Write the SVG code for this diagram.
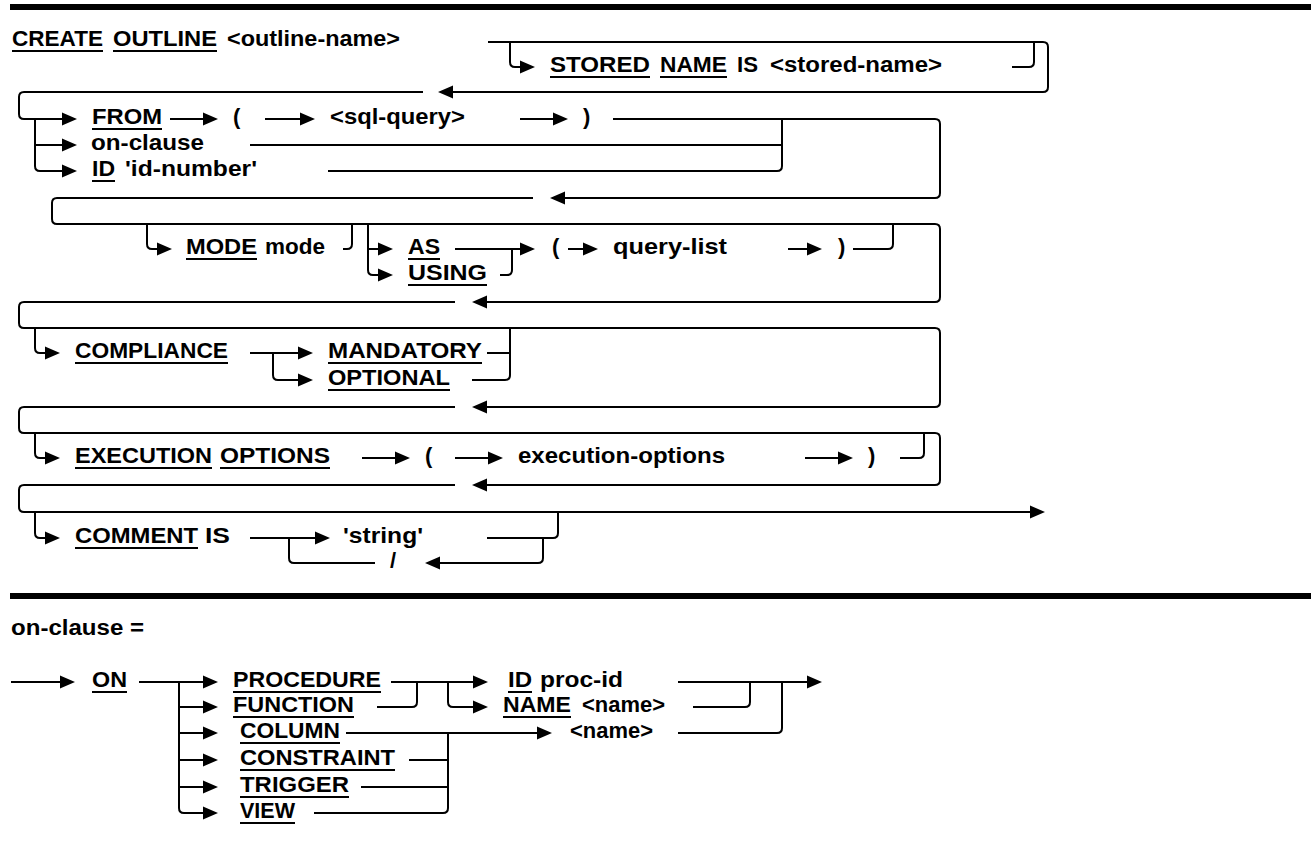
<svg xmlns="http://www.w3.org/2000/svg" xmlns:xlink="http://www.w3.org/1999/xlink" width="1311" height="842" viewBox="0 0 1311 842">
<style>
.t{font-family:"Liberation Sans",Arial,Helvetica,sans-serif;font-weight:bold;font-size:22px;fill:#000}
.c{fill:none;stroke:#000;stroke-width:2}
.u{stroke:#000;stroke-width:2}
.bar{fill:#000}
</style>
<defs>
<path id="ar" d="M0,0 L-15,-6.5 L-15,6.5 Z" fill="#000"/>
<path id="al" d="M0,0 L15,-6.5 L15,6.5 Z" fill="#000"/>
</defs>
<rect width="1311" height="842" fill="#fff"/>
<rect class="bar" x="10" y="4" width="1301" height="6"/>
<rect class="bar" x="10" y="593" width="1301" height="6"/>

<g id="connectors">
<path class="c" d="M488,42 H1043 Q1048,42 1048,47 V87 Q1048,92 1043,92 H450"/>
<use xlink:href="#al" x="438" y="92"/>
<path class="c" d="M423,92 H24 Q19,92 19,97 V114 Q19,119 24,119 H70"/>
<use xlink:href="#ar" x="77" y="119"/>
<path class="c" d="M510,42 V62 Q510,67 515,67 H528"/>
<use xlink:href="#ar" x="535" y="67"/>
<path class="c" d="M1012,67 H1029 Q1034,67 1034,62 V42"/>

<path class="c" d="M35,119 V166 Q35,171 40,171 H70 M35,145 H70"/>
<use xlink:href="#ar" x="77" y="145"/>
<use xlink:href="#ar" x="77" y="171"/>
<path class="c" d="M170,119 H211"/>
<use xlink:href="#ar" x="218" y="119"/>
<path class="c" d="M265,119 H308"/>
<use xlink:href="#ar" x="315" y="119"/>
<path class="c" d="M520,119 H561"/>
<use xlink:href="#ar" x="568" y="119"/>
<path class="c" d="M613,119 H935 Q940,119 940,124 V193 Q940,198 935,198 H562"/>
<use xlink:href="#al" x="550" y="198"/>
<path class="c" d="M250,145 H782"/>
<path class="c" d="M328,171 H777 Q782,171 782,166 V119"/>

<path class="c" d="M533,198 H57 Q52,198 52,203 V219 Q52,224 57,224 H935 Q940,224 940,229 V297 Q940,302 935,302 H484"/>
<use xlink:href="#al" x="472" y="302"/>
<path class="c" d="M147,224 V244 Q147,249 152,249 H165"/>
<use xlink:href="#ar" x="172" y="249"/>
<path class="c" d="M343,249 H347 Q352,249 352,244 V224"/>
<path class="c" d="M368,224 V270 Q368,275 373,275 H386 M368,249 H386"/>
<use xlink:href="#ar" x="393" y="249"/>
<use xlink:href="#ar" x="393" y="275"/>
<path class="c" d="M455,249 H528"/>
<use xlink:href="#ar" x="535" y="249"/>
<path class="c" d="M500,275 H507 Q512,275 512,270 V249"/>
<path class="c" d="M568,249 H591"/>
<use xlink:href="#ar" x="598" y="249"/>
<path class="c" d="M788,249 H815"/>
<use xlink:href="#ar" x="822" y="249"/>
<path class="c" d="M853,249 H888 Q893,249 893,244 V224"/>

<path class="c" d="M455,302 H24 Q19,302 19,307 V323 Q19,328 24,328 H935 Q940,328 940,333 V402 Q940,407 935,407 H484"/>
<use xlink:href="#al" x="472" y="407"/>
<path class="c" d="M35,328 V348 Q35,353 40,353 H53"/>
<use xlink:href="#ar" x="60" y="353"/>
<path class="c" d="M250,353 H306 M273,353 V375 Q273,380 278,380 H306"/>
<use xlink:href="#ar" x="313" y="353"/>
<use xlink:href="#ar" x="313" y="380"/>
<path class="c" d="M487,353 H510 M472,380 H505 Q510,380 510,375 V328"/>

<path class="c" d="M455,407 H24 Q19,407 19,412 V428 Q19,433 24,433 H935 Q940,433 940,438 V480 Q940,485 935,485 H484"/>
<use xlink:href="#al" x="472" y="485"/>
<path class="c" d="M35,433 V453 Q35,458 40,458 H53"/>
<use xlink:href="#ar" x="60" y="458"/>
<path class="c" d="M362,458 H403"/>
<use xlink:href="#ar" x="410" y="458"/>
<path class="c" d="M455,458 H496"/>
<use xlink:href="#ar" x="503" y="458"/>
<path class="c" d="M805,458 H846"/>
<use xlink:href="#ar" x="853" y="458"/>
<path class="c" d="M900,458 H919 Q924,458 924,453 V433"/>

<path class="c" d="M455,485 H24 Q19,485 19,490 V507 Q19,512 24,512 H1038"/>
<use xlink:href="#ar" x="1045" y="512"/>
<path class="c" d="M35,512 V533 Q35,538 40,538 H53"/>
<use xlink:href="#ar" x="60" y="538"/>
<path class="c" d="M250,538 H323"/>
<use xlink:href="#ar" x="330" y="538"/>
<path class="c" d="M289,538 V558 Q289,563 294,563 H375"/>
<path class="c" d="M437,563 H538 Q543,563 543,558 V538"/>
<use xlink:href="#al" x="425" y="563"/>
<path class="c" d="M487,538 H553 Q558,538 558,533 V512"/>

<path class="c" d="M11,682 H68"/>
<use xlink:href="#ar" x="75" y="682"/>
<path class="c" d="M139,682 H211 M179,682 V808 Q179,813 184,813 H211 M179,707 H211 M179,733 H211 M179,760 H211 M179,787 H211"/>
<use xlink:href="#ar" x="218" y="682"/>
<use xlink:href="#ar" x="218" y="707"/>
<use xlink:href="#ar" x="218" y="733"/>
<use xlink:href="#ar" x="218" y="760"/>
<use xlink:href="#ar" x="218" y="787"/>
<use xlink:href="#ar" x="218" y="813"/>
<path class="c" d="M391,682 H481"/>
<use xlink:href="#ar" x="488" y="682"/>
<path class="c" d="M377,707 H412 Q417,707 417,702 V682"/>
<path class="c" d="M448,682 V702 Q448,707 453,707 H481"/>
<use xlink:href="#ar" x="488" y="707"/>
<path class="c" d="M346,733 H545"/>
<use xlink:href="#ar" x="552" y="733"/>
<path class="c" d="M409,760 H448 M361,787 H448 M314,813 H443 Q448,813 448,808 V733"/>
<path class="c" d="M678,682 H815"/>
<use xlink:href="#ar" x="822" y="682"/>
<path class="c" d="M693,707 H745 Q750,707 750,702 V682"/>
<path class="c" d="M678,733 H777 Q782,733 782,728 V682"/>
</g>

<g id="n-create"><text class="t" x="12" y="46" textLength="91" lengthAdjust="spacingAndGlyphs">CREATE</text><line class="u" x1="12" y1="51" x2="103" y2="51"/></g>
<g id="n-outline"><text class="t" x="113" y="46" textLength="104" lengthAdjust="spacingAndGlyphs">OUTLINE</text><line class="u" x1="113" y1="51" x2="217" y2="51"/></g>
<g id="n-outline-name"><text class="t" x="227" y="46" textLength="173" lengthAdjust="spacingAndGlyphs">&lt;outline-name&gt;</text></g>
<g id="n-stored"><text class="t" x="550" y="72" textLength="100" lengthAdjust="spacingAndGlyphs">STORED</text><line class="u" x1="550" y1="77" x2="650" y2="77"/>
<text class="t" x="660" y="72" textLength="67" lengthAdjust="spacingAndGlyphs">NAME</text><line class="u" x1="660" y1="77" x2="727" y2="77"/>
<text class="t" x="737" y="72" textLength="21" lengthAdjust="spacingAndGlyphs">IS</text>
<text class="t" x="770" y="72" textLength="172" lengthAdjust="spacingAndGlyphs">&lt;stored-name&gt;</text></g>

<g id="n-from"><text class="t" x="92" y="124" textLength="70" lengthAdjust="spacingAndGlyphs">FROM</text><line class="u" x1="92" y1="129" x2="162" y2="129"/></g>
<g id="n-lparen1"><text class="t" x="233" y="124">(</text></g>
<g id="n-sql-query"><text class="t" x="330" y="124" textLength="135" lengthAdjust="spacingAndGlyphs">&lt;sql-query&gt;</text></g>
<g id="n-rparen1"><text class="t" x="583" y="124">)</text></g>
<g id="n-on-clause-ref"><text class="t" x="91" y="150" textLength="113" lengthAdjust="spacingAndGlyphs">on-clause</text></g>
<g id="n-id-number"><text class="t" x="92" y="176" textLength="23" lengthAdjust="spacingAndGlyphs">ID</text><line class="u" x1="92" y1="181" x2="115" y2="181"/>
<text class="t" x="125" y="176" textLength="132" lengthAdjust="spacingAndGlyphs">'id-number'</text></g>

<g id="n-mode"><text class="t" x="186" y="254" textLength="71" lengthAdjust="spacingAndGlyphs">MODE</text><line class="u" x1="186" y1="259" x2="257" y2="259"/>
<text class="t" x="265" y="254" textLength="60" lengthAdjust="spacingAndGlyphs">mode</text></g>
<g id="n-as"><text class="t" x="408" y="254" textLength="32" lengthAdjust="spacingAndGlyphs">AS</text><line class="u" x1="408" y1="259" x2="440" y2="259"/></g>
<g id="n-using"><text class="t" x="408" y="280" textLength="79" lengthAdjust="spacingAndGlyphs">USING</text><line class="u" x1="408" y1="285" x2="487" y2="285"/></g>
<g id="n-lparen2"><text class="t" x="552" y="254">(</text></g>
<g id="n-query-list"><text class="t" x="613" y="254" textLength="114" lengthAdjust="spacingAndGlyphs">query-list</text></g>
<g id="n-rparen2"><text class="t" x="838" y="254">)</text></g>

<g id="n-compliance"><text class="t" x="75" y="358" textLength="153" lengthAdjust="spacingAndGlyphs">COMPLIANCE</text><line class="u" x1="75" y1="363" x2="228" y2="363"/></g>
<g id="n-mandatory"><text class="t" x="328" y="358" textLength="154" lengthAdjust="spacingAndGlyphs">MANDATORY</text><line class="u" x1="328" y1="363" x2="482" y2="363"/></g>
<g id="n-optional"><text class="t" x="328" y="385" textLength="122" lengthAdjust="spacingAndGlyphs">OPTIONAL</text><line class="u" x1="328" y1="390" x2="450" y2="390"/></g>

<g id="n-execution"><text class="t" x="75" y="463" textLength="137" lengthAdjust="spacingAndGlyphs">EXECUTION</text><line class="u" x1="75" y1="468" x2="212" y2="468"/>
<text class="t" x="220" y="463" textLength="110" lengthAdjust="spacingAndGlyphs">OPTIONS</text><line class="u" x1="220" y1="468" x2="330" y2="468"/></g>
<g id="n-lparen3"><text class="t" x="425" y="463">(</text></g>
<g id="n-execution-options"><text class="t" x="518" y="463" textLength="207" lengthAdjust="spacingAndGlyphs">execution-options</text></g>
<g id="n-rparen3"><text class="t" x="868" y="463">)</text></g>

<g id="n-comment"><text class="t" x="75" y="543" textLength="123" lengthAdjust="spacingAndGlyphs">COMMENT</text><line class="u" x1="75" y1="548" x2="198" y2="548"/>
<text class="t" x="205" y="543" textLength="25" lengthAdjust="spacingAndGlyphs">IS</text></g>
<g id="n-string"><text class="t" x="343" y="543" textLength="80" lengthAdjust="spacingAndGlyphs">'string'</text></g>
<g id="n-slash"><text class="t" x="390" y="568">/</text></g>

<g id="n-on-clause-def"><text class="t" x="11" y="635" textLength="133" lengthAdjust="spacingAndGlyphs">on-clause =</text></g>
<g id="n-on"><text class="t" x="92" y="687" textLength="35" lengthAdjust="spacingAndGlyphs">ON</text><line class="u" x1="92" y1="692" x2="127" y2="692"/></g>
<g id="n-procedure"><text class="t" x="233" y="687" textLength="148" lengthAdjust="spacingAndGlyphs">PROCEDURE</text><line class="u" x1="233" y1="692" x2="381" y2="692"/></g>
<g id="n-function"><text class="t" x="233" y="712" textLength="121" lengthAdjust="spacingAndGlyphs">FUNCTION</text><line class="u" x1="233" y1="717" x2="354" y2="717"/></g>
<g id="n-column"><text class="t" x="240" y="738" textLength="100" lengthAdjust="spacingAndGlyphs">COLUMN</text><line class="u" x1="240" y1="743" x2="340" y2="743"/></g>
<g id="n-constraint"><text class="t" x="240" y="765" textLength="155" lengthAdjust="spacingAndGlyphs">CONSTRAINT</text><line class="u" x1="240" y1="770" x2="395" y2="770"/></g>
<g id="n-trigger"><text class="t" x="240" y="792" textLength="109" lengthAdjust="spacingAndGlyphs">TRIGGER</text><line class="u" x1="240" y1="797" x2="349" y2="797"/></g>
<g id="n-view"><text class="t" x="240" y="818" textLength="55" lengthAdjust="spacingAndGlyphs">VIEW</text><line class="u" x1="240" y1="823" x2="295" y2="823"/></g>
<g id="n-id-proc"><text class="t" x="508" y="687" textLength="24" lengthAdjust="spacingAndGlyphs">ID</text><line class="u" x1="508" y1="692" x2="532" y2="692"/>
<text class="t" x="540" y="687" textLength="83" lengthAdjust="spacingAndGlyphs">proc-id</text></g>
<g id="n-name"><text class="t" x="503" y="712" textLength="68" lengthAdjust="spacingAndGlyphs">NAME</text><line class="u" x1="503" y1="717" x2="571" y2="717"/>
<text class="t" x="582" y="712" textLength="83" lengthAdjust="spacingAndGlyphs">&lt;name&gt;</text></g>
<g id="n-name2"><text class="t" x="570" y="738" textLength="83" lengthAdjust="spacingAndGlyphs">&lt;name&gt;</text></g>
</svg>
